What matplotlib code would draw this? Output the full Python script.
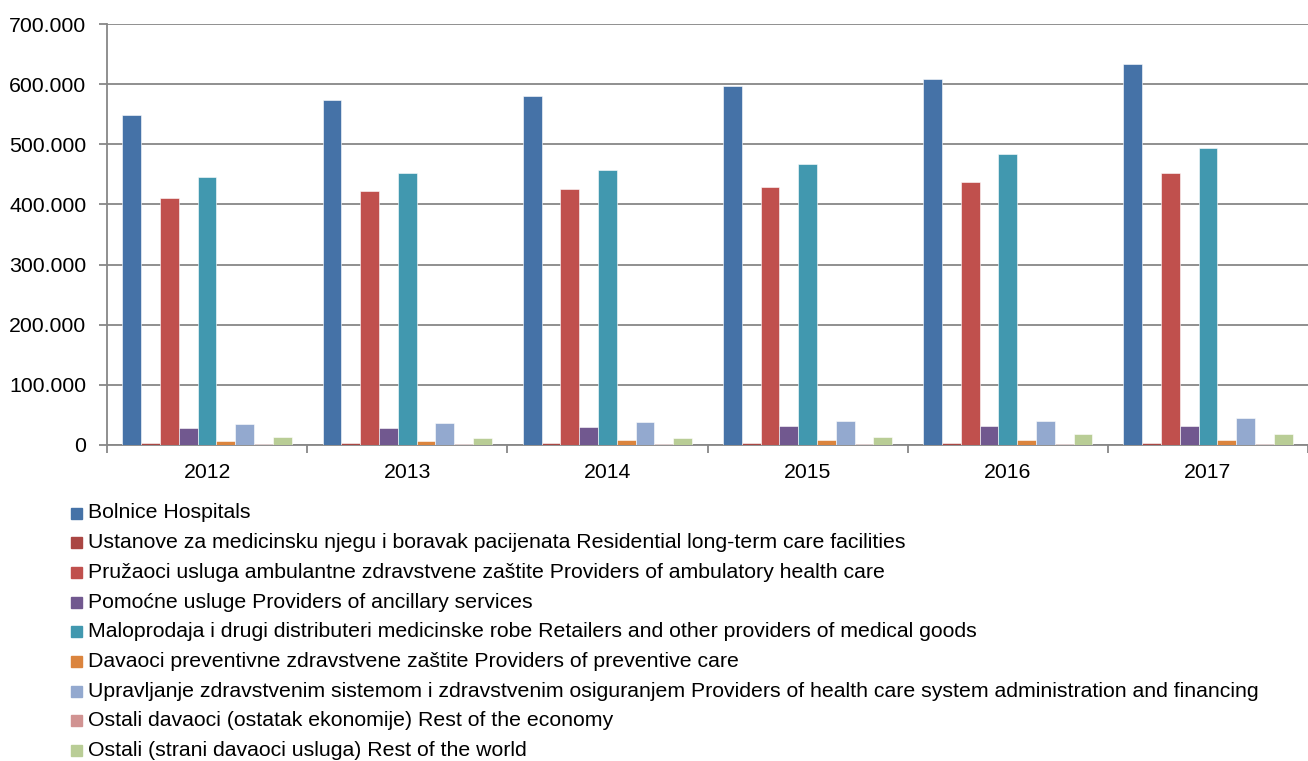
import matplotlib
matplotlib.use("Agg")
import matplotlib.pyplot as plt
from matplotlib.patches import Rectangle
from matplotlib.ticker import FuncFormatter, FixedLocator
import numpy as np

plt.rcParams['font.family'] = ['Liberation Sans', 'DejaVu Sans']

years = ["2012", "2013", "2014", "2015", "2016", "2017"]
series_names = [
    "Bolnice Hospitals",
    "Ustanove za medicinsku njegu i boravak pacijenata Residential long-term care facilities",
    "Pružaoci usluga ambulantne zdravstvene zaštite Providers of ambulatory health care",
    "Pomoćne usluge Providers of ancillary services",
    "Maloprodaja i drugi distributeri medicinske robe Retailers and other providers of medical goods",
    "Davaoci preventivne zdravstvene zaštite Providers of preventive care",
    "Upravljanje zdravstvenim sistemom i zdravstvenim osiguranjem Providers of health care system administration and financing",
    "Ostali davaoci (ostatak ekonomije) Rest of the economy",
    "Ostali (strani davaoci usluga) Rest of the world",
]
hospitals = [548000, 574000, 580000, 597000, 608000, 633000]
residential = [2500, 2500, 2500, 2500, 2500, 2500]
ambulatory = [411000, 422000, 426000, 429000, 437000, 452000]
ancillary = [28000, 29000, 30000, 31000, 31000, 32000]
retailers = [446000, 452000, 457000, 468000, 484000, 494000]
preventive = [7000, 7000, 7500, 8000, 8000, 9000]
administration = [35000, 37000, 38000, 40000, 40000, 45000]
rest_economy = [2000, 2000, 2000, 2000, 2000, 2000]
rest_world = [12500, 11000, 11000, 14000, 19000, 19000]

values = [hospitals, residential, ambulatory, ancillary, retailers,
          preventive, administration, rest_economy, rest_world]
colors = ["#4572A7", "#AA4643", "#C0504D", "#71588F", "#4198AF",
          "#DB843D", "#93A9CF", "#D19392", "#B9CD96"]

fig = plt.figure(figsize=(13.08, 7.61), dpi=100)
ax = fig.add_axes([107/1308, 1-445/761, 1-107/1308, (445-24)/761])

n = len(values)
bw = 0.094
x = np.arange(len(years))
for i, (vals, c) in enumerate(zip(values, colors)):
    offs = (i - (n-1)/2) * bw
    ax.bar(x + offs, vals, width=bw, color=c, edgecolor="white",
           linewidth=0.4, zorder=3)

ax.set_xlim(-0.5, len(years)-0.5)
ax.set_ylim(0, 700000)
ax.set_yticks(np.arange(0, 700001, 100000))
ax.yaxis.set_major_formatter(FuncFormatter(
    lambda v, p: "0" if v == 0 else f"{int(v/1000)}.000"))
ax.grid(axis='y', color="#878787", linewidth=1.3, zorder=0)
ax.set_axisbelow(True)

ax.set_xticks(x)
ax.set_xticklabels(years)
ax.xaxis.set_minor_locator(FixedLocator(np.arange(-0.5, len(years), 1.0)))
ax.tick_params(axis='x', which='major', length=0, labelsize=15.3, pad=13, colors="#000000")
ax.tick_params(axis='x', which='minor', length=6, width=1.3, color="#878787")
ax.tick_params(axis='y', length=6, width=1.3, color="#878787", labelsize=15.3,
               pad=9, labelcolor="#000000")

for s in ['top', 'right']:
    ax.spines[s].set_visible(False)
for s in ['left', 'bottom']:
    ax.spines[s].set_color("#878787")
    ax.spines[s].set_linewidth(1.3)

# legend
W, H = 1308, 761
y0 = 513
dy = 29.7
for i, (name, c) in enumerate(zip(series_names, colors)):
    yc = y0 + i*dy
    fig.patches.append(Rectangle((71/W, 1-(yc+5.5)/H), 11/W, 11/H,
                                 transform=fig.transFigure, color=c, figure=fig))
    fig.text(88/W, 1-yc/H, name, fontsize=15.3, va='center', ha='left')

fig.savefig("out.png", dpi=100)
